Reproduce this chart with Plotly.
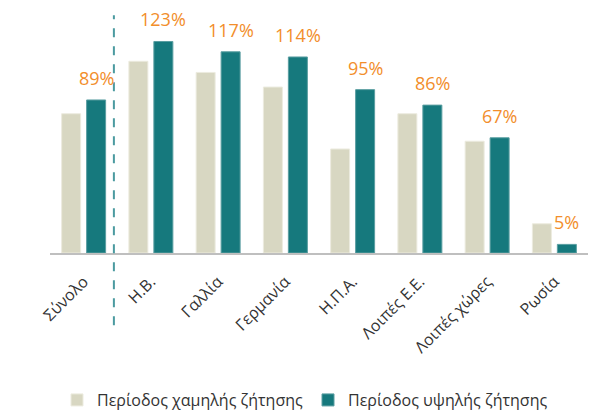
import plotly.graph_objects as go

categories = ["Σύνολο", "Η.Β.", "Γαλλία", "Γερμανία", "Η.Π.Α.", "Λοιπές Ε.Ε.", "Λοιπές χώρες", "Ρωσία"]
low_demand = [81, 111.5, 105, 96.5, 60.5, 81, 65, 17]
high_demand = [89, 123, 117, 114, 95, 86, 67, 5]
high_labels = ["89%", "123%", "117%", "114%", "95%", "86%", "67%", "5%"]
series_names = ["Περίοδος χαμηλής ζήτησης", "Περίοδος υψηλής ζήτησης"]

BEIGE = "#d8d7c2"
TEAL = "#16797d"
ORANGE = "#f28e2b"

fig = go.Figure()
fig.add_trace(go.Bar(x=categories, y=low_demand, name=series_names[0],
                     marker=dict(color=BEIGE, line=dict(color="#ecebdf", width=1))))
fig.add_trace(go.Bar(x=categories, y=high_demand, name=series_names[1],
                     marker=dict(color=TEAL, line=dict(color="#5a9ea1", width=1))))

for c, v, t in zip(categories, high_demand, high_labels):
    fig.add_annotation(x=c, y=v, text=t, showarrow=False, xshift=12.5, yshift=8,
                       yanchor="bottom", font=dict(family="Open Sans", size=18, color=ORANGE))

fig.add_shape(type="line", xref="x", yref="paper", x0=0.45, x1=0.45, y0=-0.31, y1=1.02,
              line=dict(color="#4b9aa0", width=2, dash="dash"))

fig.update_layout(
    width=590, height=404,
    margin=dict(l=42, r=10, t=12, b=159, autoexpand=False),
    paper_bgcolor="white", plot_bgcolor="white",
    barmode="group", bargap=0.257, bargroupgap=0.24,
    font=dict(family="Open Sans", color="#333333"),
    xaxis=dict(showgrid=False, showline=True, linecolor="#bfbfbf", linewidth=2,
               ticks="", tickangle=-45, automargin=False, ticklabelstandoff=11,
               tickfont=dict(size=16, color="#333333")),
    yaxis=dict(visible=False, range=[0, 135.5], automargin=False),
    showlegend=True,
    legend=dict(orientation="h", x=0.474, xanchor="center", y=-0.631, yanchor="middle",
                font=dict(size=16, color="#333333"), itemwidth=30),
)

fig.write_html("out.html")
